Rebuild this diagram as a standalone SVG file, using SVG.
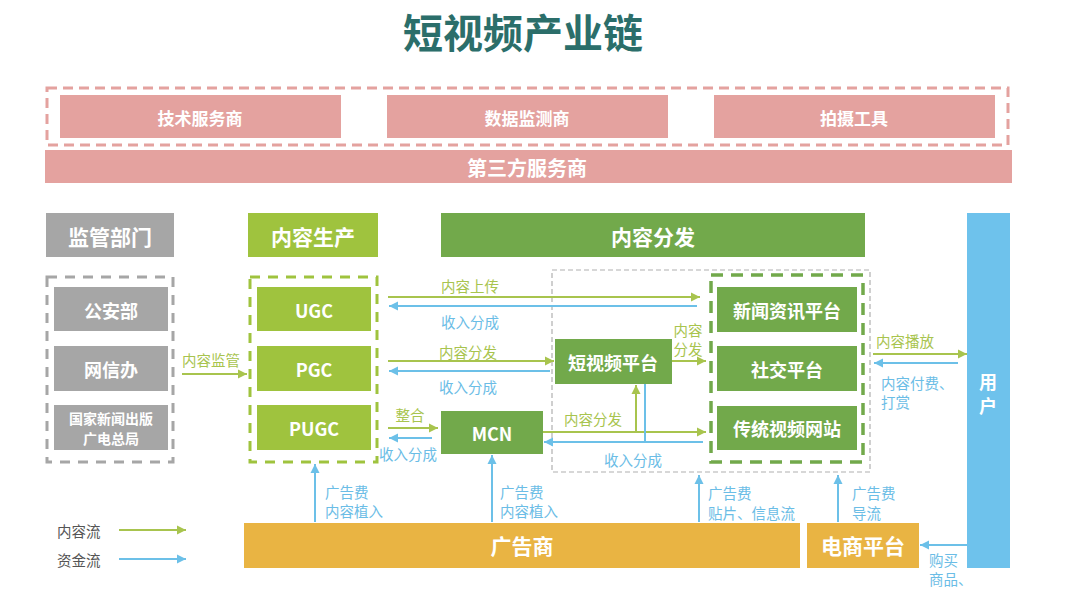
<svg xmlns="http://www.w3.org/2000/svg" width="1080" height="596" viewBox="0 0 1080 596">
<style>
text{font-family:"Noto Sans CJK SC","Noto Sans",sans-serif;dominant-baseline:central}
.hd{font-weight:bold;fill:#fff;font-size:21px;text-anchor:middle}
.bx{font-weight:bold;fill:#fff;font-size:18px;text-anchor:middle}
.gl{fill:#a8c44e;font-size:14.5px}
.bl{fill:#6bbde6;font-size:14.5px}
.c{text-anchor:middle}
.pink{fill:#e4a29f}
.gray{fill:#a6a6a6}
.lg{fill:#9fc33e}
.dg{fill:#72a94b}
.or{fill:#e9b443}
.ga{stroke:#a8c44e;stroke-width:2;fill:none;marker-end:url(#ag)}
.ba{stroke:#6cc0e8;stroke-width:2;fill:none;marker-end:url(#ab)}
</style>
<defs>
<marker id="ag" markerUnits="userSpaceOnUse" markerWidth="10" markerHeight="10" refX="9" refY="5" orient="auto"><path d="M0,0.5 L9,5 L0,9.5 z" fill="#a8c44e"/></marker>
<marker id="ab" markerUnits="userSpaceOnUse" markerWidth="10" markerHeight="10" refX="9" refY="5" orient="auto"><path d="M0,0.5 L9,5 L0,9.5 z" fill="#6cc0e8"/></marker>
</defs>
<rect width="1080" height="596" fill="#fff"/>
<text x="523" y="31" class="c" style="font-size:40px;font-weight:bold;fill:#2b6e6a">短视频产业链</text>

<g id="third-party">
<rect x="47" y="88" width="961" height="57" fill="none" stroke="#e4a29f" stroke-width="3" stroke-dasharray="10 6"/>
<g id="tech"><rect x="60" y="95" width="281" height="43" class="pink"/><text x="200" y="117" class="bx" style="font-size:17px">技术服务商</text></g>
<g id="data"><rect x="387" y="95" width="281" height="43" class="pink"/><text x="527" y="117" class="bx" style="font-size:17px">数据监测商</text></g>
<g id="shoot"><rect x="714" y="95" width="281" height="43" class="pink"/><text x="854" y="117" class="bx" style="font-size:17px">拍摄工具</text></g>
<g id="tps"><rect x="45" y="150" width="967" height="33" class="pink"/><text x="527" y="167" class="hd" style="font-size:20px">第三方服务商</text></g>
</g>

<g id="regulator-header"><rect x="46" y="213" width="128" height="44" class="gray"/><text x="110" y="236" class="hd">监管部门</text></g>
<g id="producer-header"><rect x="248" y="213" width="130" height="44" class="lg"/><text x="313" y="236" class="hd">内容生产</text></g>
<g id="dist-header"><rect x="441" y="213" width="424" height="44" class="dg"/><text x="653" y="236" class="hd">内容分发</text></g>
<g id="user"><rect x="967" y="213" width="43" height="355" fill="#6ec2ec"/><text x="988" y="381" class="bx">用</text><text x="988" y="405" class="bx">户</text></g>

<g id="regulators">
<rect x="47" y="277" width="126" height="185" fill="none" stroke="#a6a6a6" stroke-width="3" stroke-dasharray="10 8"/>
<g id="police"><rect x="54" y="287" width="114" height="44" class="gray"/><text x="111" y="310" class="bx">公安部</text></g>
<g id="cac"><rect x="54" y="346" width="114" height="45" class="gray"/><text x="111" y="369" class="bx">网信办</text></g>
<g id="sapprft"><rect x="54" y="405" width="114" height="45" class="gray"/><text x="111" y="418" class="bx" style="font-size:14px">国家新闻出版</text><text x="111" y="438" class="bx" style="font-size:14px">广电总局</text></g>
</g>

<g id="producers">
<rect x="250" y="277" width="127" height="185" fill="none" stroke="#9fc33e" stroke-width="3" stroke-dasharray="10 8"/>
<g id="ugc"><rect x="257" y="287" width="114" height="44" class="lg"/><text x="314" y="310" class="bx">UGC</text></g>
<g id="pgc"><rect x="257" y="346" width="114" height="45" class="lg"/><text x="314" y="369" class="bx">PGC</text></g>
<g id="pugc"><rect x="257" y="405" width="114" height="45" class="lg"/><text x="314" y="428" class="bx">PUGC</text></g>
</g>

<rect x="552" y="270" width="318" height="202" fill="none" stroke="#b0b0b0" stroke-width="1.2" stroke-dasharray="5 3"/>
<g id="short-video"><rect x="555" y="339" width="117" height="45" class="dg"/><text x="613" y="362" class="bx">短视频平台</text></g>
<g id="mcn"><rect x="441" y="411" width="102" height="43" class="dg"/><text x="492" y="433" class="bx">MCN</text></g>

<g id="platforms">
<rect x="711" y="275" width="152" height="187" fill="none" stroke="#72a94b" stroke-width="3.5" stroke-dasharray="12 8"/>
<g id="news"><rect x="717" y="287" width="140" height="45" class="dg"/><text x="787" y="310" class="bx">新闻资讯平台</text></g>
<g id="social"><rect x="717" y="346" width="140" height="45" class="dg"/><text x="787" y="369" class="bx">社交平台</text></g>
<g id="video-site"><rect x="717" y="406" width="140" height="44" class="dg"/><text x="787" y="428" class="bx">传统视频网站</text></g>
</g>

<g id="advertiser"><rect x="244" y="523" width="556" height="45" class="or"/><text x="522" y="545" class="hd">广告商</text></g>
<g id="ecommerce"><rect x="807" y="523" width="112" height="45" class="or"/><text x="863" y="545" class="hd">电商平台</text></g>

<g id="connectors">
<path d="M182,374 H247" class="ga"/>
<path d="M388,297 H700" class="ga"/>
<path d="M697,306 H389" class="ba"/>
<path d="M388,361 H554" class="ga"/>
<path d="M550,371 H389" class="ba"/>
<path d="M388,428 H438" class="ga"/>
<path d="M432,438 H389" class="ba"/>
<path d="M672,361 H706" class="ga"/>
<path d="M543,432 H706" class="ga"/>
<path d="M636,432 V385" class="ga"/>
<path d="M645,384 V442" stroke="#6cc0e8" stroke-width="2" fill="none"/>
<path d="M703,442 H544" class="ba"/>
<path d="M873,354 H967" class="ga"/>
<path d="M958,363 H874" class="ba"/>
<path d="M315,522 V464" class="ba"/>
<path d="M492,522 V455" class="ba"/>
<path d="M699,522 V475" class="ba"/>
<path d="M838,522 V475" class="ba"/>
<path d="M967,545 H920" class="ba"/>
<path d="M119,530 H186" class="ga"/>
<path d="M119,559 H186" class="ba"/>
</g>

<g id="labels">
<text x="211" y="359" class="gl c">内容监管</text>
<text x="470" y="285" class="gl c">内容上传</text>
<text x="470" y="321" class="bl c">收入分成</text>
<text x="468" y="351" class="gl c">内容分发</text>
<text x="468" y="386" class="bl c">收入分成</text>
<text x="410" y="414" class="gl c">整合</text>
<text x="408" y="453" class="bl c">收入分成</text>
<text x="593" y="418" class="gl c">内容分发</text>
<text x="633" y="459" class="bl c">收入分成</text>
<text x="688" y="329" class="gl c">内容</text>
<text x="688" y="348" class="gl c">分发</text>
<text x="905" y="340" class="gl c">内容播放</text>
<text x="881" y="382" class="bl">内容付费、</text>
<text x="881" y="401" class="bl">打赏</text>
<text x="325" y="491" class="bl">广告费</text>
<text x="325" y="510" class="bl">内容植入</text>
<text x="500" y="491" class="bl">广告费</text>
<text x="500" y="510" class="bl">内容植入</text>
<text x="708" y="492" class="bl">广告费</text>
<text x="708" y="512" class="bl">贴片、信息流</text>
<text x="852" y="492" class="bl">广告费</text>
<text x="852" y="512" class="bl">导流</text>
<text x="929" y="559" class="bl">购买</text>
<text x="929" y="578" class="bl">商品、</text>
<text x="57" y="530" style="font-size:14.5px;fill:#555">内容流</text>
<text x="57" y="559" style="font-size:14.5px;fill:#555">资金流</text>
</g>
</svg>
